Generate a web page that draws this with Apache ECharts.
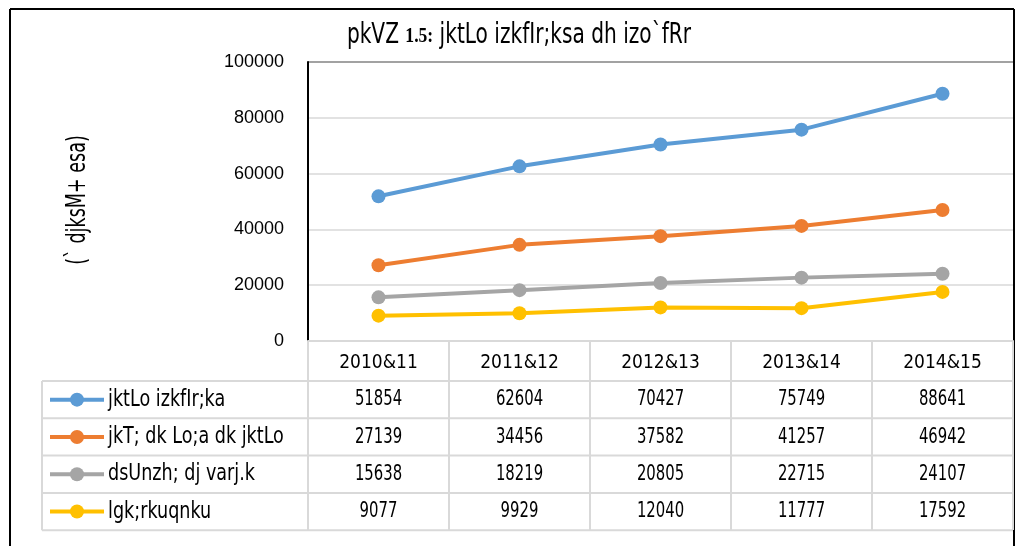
<!DOCTYPE html>
<html>
<head>
<meta charset="utf-8">
<script src="https://cdn.jsdelivr.net/npm/echarts@6/dist/echarts.min.js"></script>
<style>
  html, body { margin: 0; padding: 0; background: #fff; }
  #main { width: 1016px; height: 546px; }
</style>
</head>
<body>
<div id="main"></div>
<script>
// 数据
var years = ['2010&11', '2011&12', '2012&13', '2013&14', '2014&15'];
var seriesNames = ['jktLo izkfIr;ka', 'jkT; dk Lo;a dk jktLo', 'dsUnzh; dj varj.k', 'lgk;rkuqnku'];
var revenueReceipts = [51854, 62604, 70427, 75749, 88641];
var ownRevenue = [27139, 34456, 37582, 41257, 46942];
var centralTax = [15638, 18219, 20805, 22715, 24107];
var grants = [9077, 9929, 12040, 11777, 17592];
var yTicks = [0, 20000, 40000, 60000, 80000, 100000];
var colors = ['#5B9BD5', '#ED7D31', '#A5A5A5', '#FFC000'];

var allData = [revenueReceipts, ownRevenue, centralTax, grants];
var narrow = '"Liberation Sans Narrow", "DejaVu Sans Condensed", sans-serif';

var myChart = echarts.init(document.getElementById('main'));

// 布局
var plotL = 308, plotR = 1013, plotT = 62, plotB = 341;
var tableL = 42, rowTop = 381, rowH = 37.3;
var colW = (plotR - plotL) / years.length;

var graphics = [];
// 外框
graphics.push({ type: 'line', shape: { x1: 10, y1: 9, x2: 1014, y2: 9 }, style: { stroke: '#000', lineWidth: 2 } });
graphics.push({ type: 'line', shape: { x1: 10, y1: 9, x2: 10, y2: 546 }, style: { stroke: '#000', lineWidth: 2 } });
graphics.push({ type: 'line', shape: { x1: 1014, y1: 9, x2: 1014, y2: 546 }, style: { stroke: '#000', lineWidth: 2 } });
// 绘图区上边框
graphics.push({ type: 'line', shape: { x1: plotL, y1: plotT, x2: plotR, y2: plotT }, style: { stroke: '#000', lineWidth: 2 } });

// 标题
graphics.push({
  type: 'text', x: 519, y: 36, scaleX: 0.8,
  style: {
    text: 'pkVZ {b|1.5:} jktLo izkfIr;ksa dh izo`fRr',
    font: '28px ' + narrow, fill: '#000', align: 'center', verticalAlign: 'middle',
    rich: { b: { fontFamily: '"Liberation Serif", serif', fontWeight: 'bold', fontSize: 22, fill: '#000' } }
  }
});

// 表格
for (var r = 0; r <= seriesNames.length; r++) {
  var y = rowTop + r * rowH;
  graphics.push({ type: 'line', z: 1, shape: { x1: tableL, y1: y, x2: plotR, y2: y }, style: { stroke: '#d9d9d9', lineWidth: 2 } });
}
graphics.push({ type: 'line', z: 1, shape: { x1: tableL, y1: rowTop, x2: tableL, y2: rowTop + seriesNames.length * rowH }, style: { stroke: '#d9d9d9', lineWidth: 2 } });

seriesNames.forEach(function (name, i) {
  var cy = rowTop + (i + 0.5) * rowH;
  graphics.push({ type: 'line', z: 2, shape: { x1: 50, y1: cy, x2: 104, y2: cy }, style: { stroke: colors[i], lineWidth: 4 } });
  graphics.push({ type: 'circle', z: 3, shape: { cx: 77, cy: cy, r: 7 }, style: { fill: colors[i] } });
  graphics.push({ type: 'text', z: 3, x: 108, y: cy, scaleX: 0.85, style: { text: name, font: '23px ' + narrow, fill: '#000', verticalAlign: 'middle' } });
  allData[i].forEach(function (v, j) {
    graphics.push({ type: 'text', z: 3, x: plotL + (j + 0.5) * colW, y: cy, scaleX: 0.75, style: { text: String(v), font: '22px ' + narrow, fill: '#000', align: 'center', verticalAlign: 'middle' } });
  });
});

// Y轴标题
graphics.push({ type: 'text', x: 78, y: 200, rotation: Math.PI / 2, scaleX: 0.75, style: { text: '(` djksM+ esa)', font: '26px ' + narrow, fill: '#000', align: 'center', verticalAlign: 'middle' } });

var option = {
  animation: false,
  grid: { left: plotL, right: 1016 - plotR, top: plotT, bottom: 546 - plotB },
  xAxis: {
    type: 'category',
    data: years,
    axisLine: { lineStyle: { color: '#d9d9d9', width: 2 } },
    axisTick: { show: true, length: 189, lineStyle: { color: '#d9d9d9', width: 2 } },
    axisLabel: { color: '#000', fontFamily: narrow, fontSize: 19, margin: 13 }
  },
  yAxis: {
    type: 'value',
    min: yTicks[0],
    max: yTicks[yTicks.length - 1],
    interval: 20000,
    axisLine: { show: true, lineStyle: { color: '#000', width: 2 } },
    axisTick: { show: false },
    axisLabel: { color: '#000', fontFamily: '"Liberation Sans", sans-serif', fontSize: 18, margin: 24, formatter: function (v) { return String(v); } },
    splitLine: { lineStyle: { color: '#d9d9d9', width: 1.5 } }
  },
  graphic: graphics,
  series: seriesNames.map(function (name, i) {
    return {
      name: name,
      type: 'line',
      data: allData[i],
      symbol: 'circle',
      symbolSize: 14,
      itemStyle: { color: colors[i] },
      lineStyle: { color: colors[i], width: 4 },
      z: 5
    };
  })
};

myChart.setOption(option);
</script>
</body>
</html>
